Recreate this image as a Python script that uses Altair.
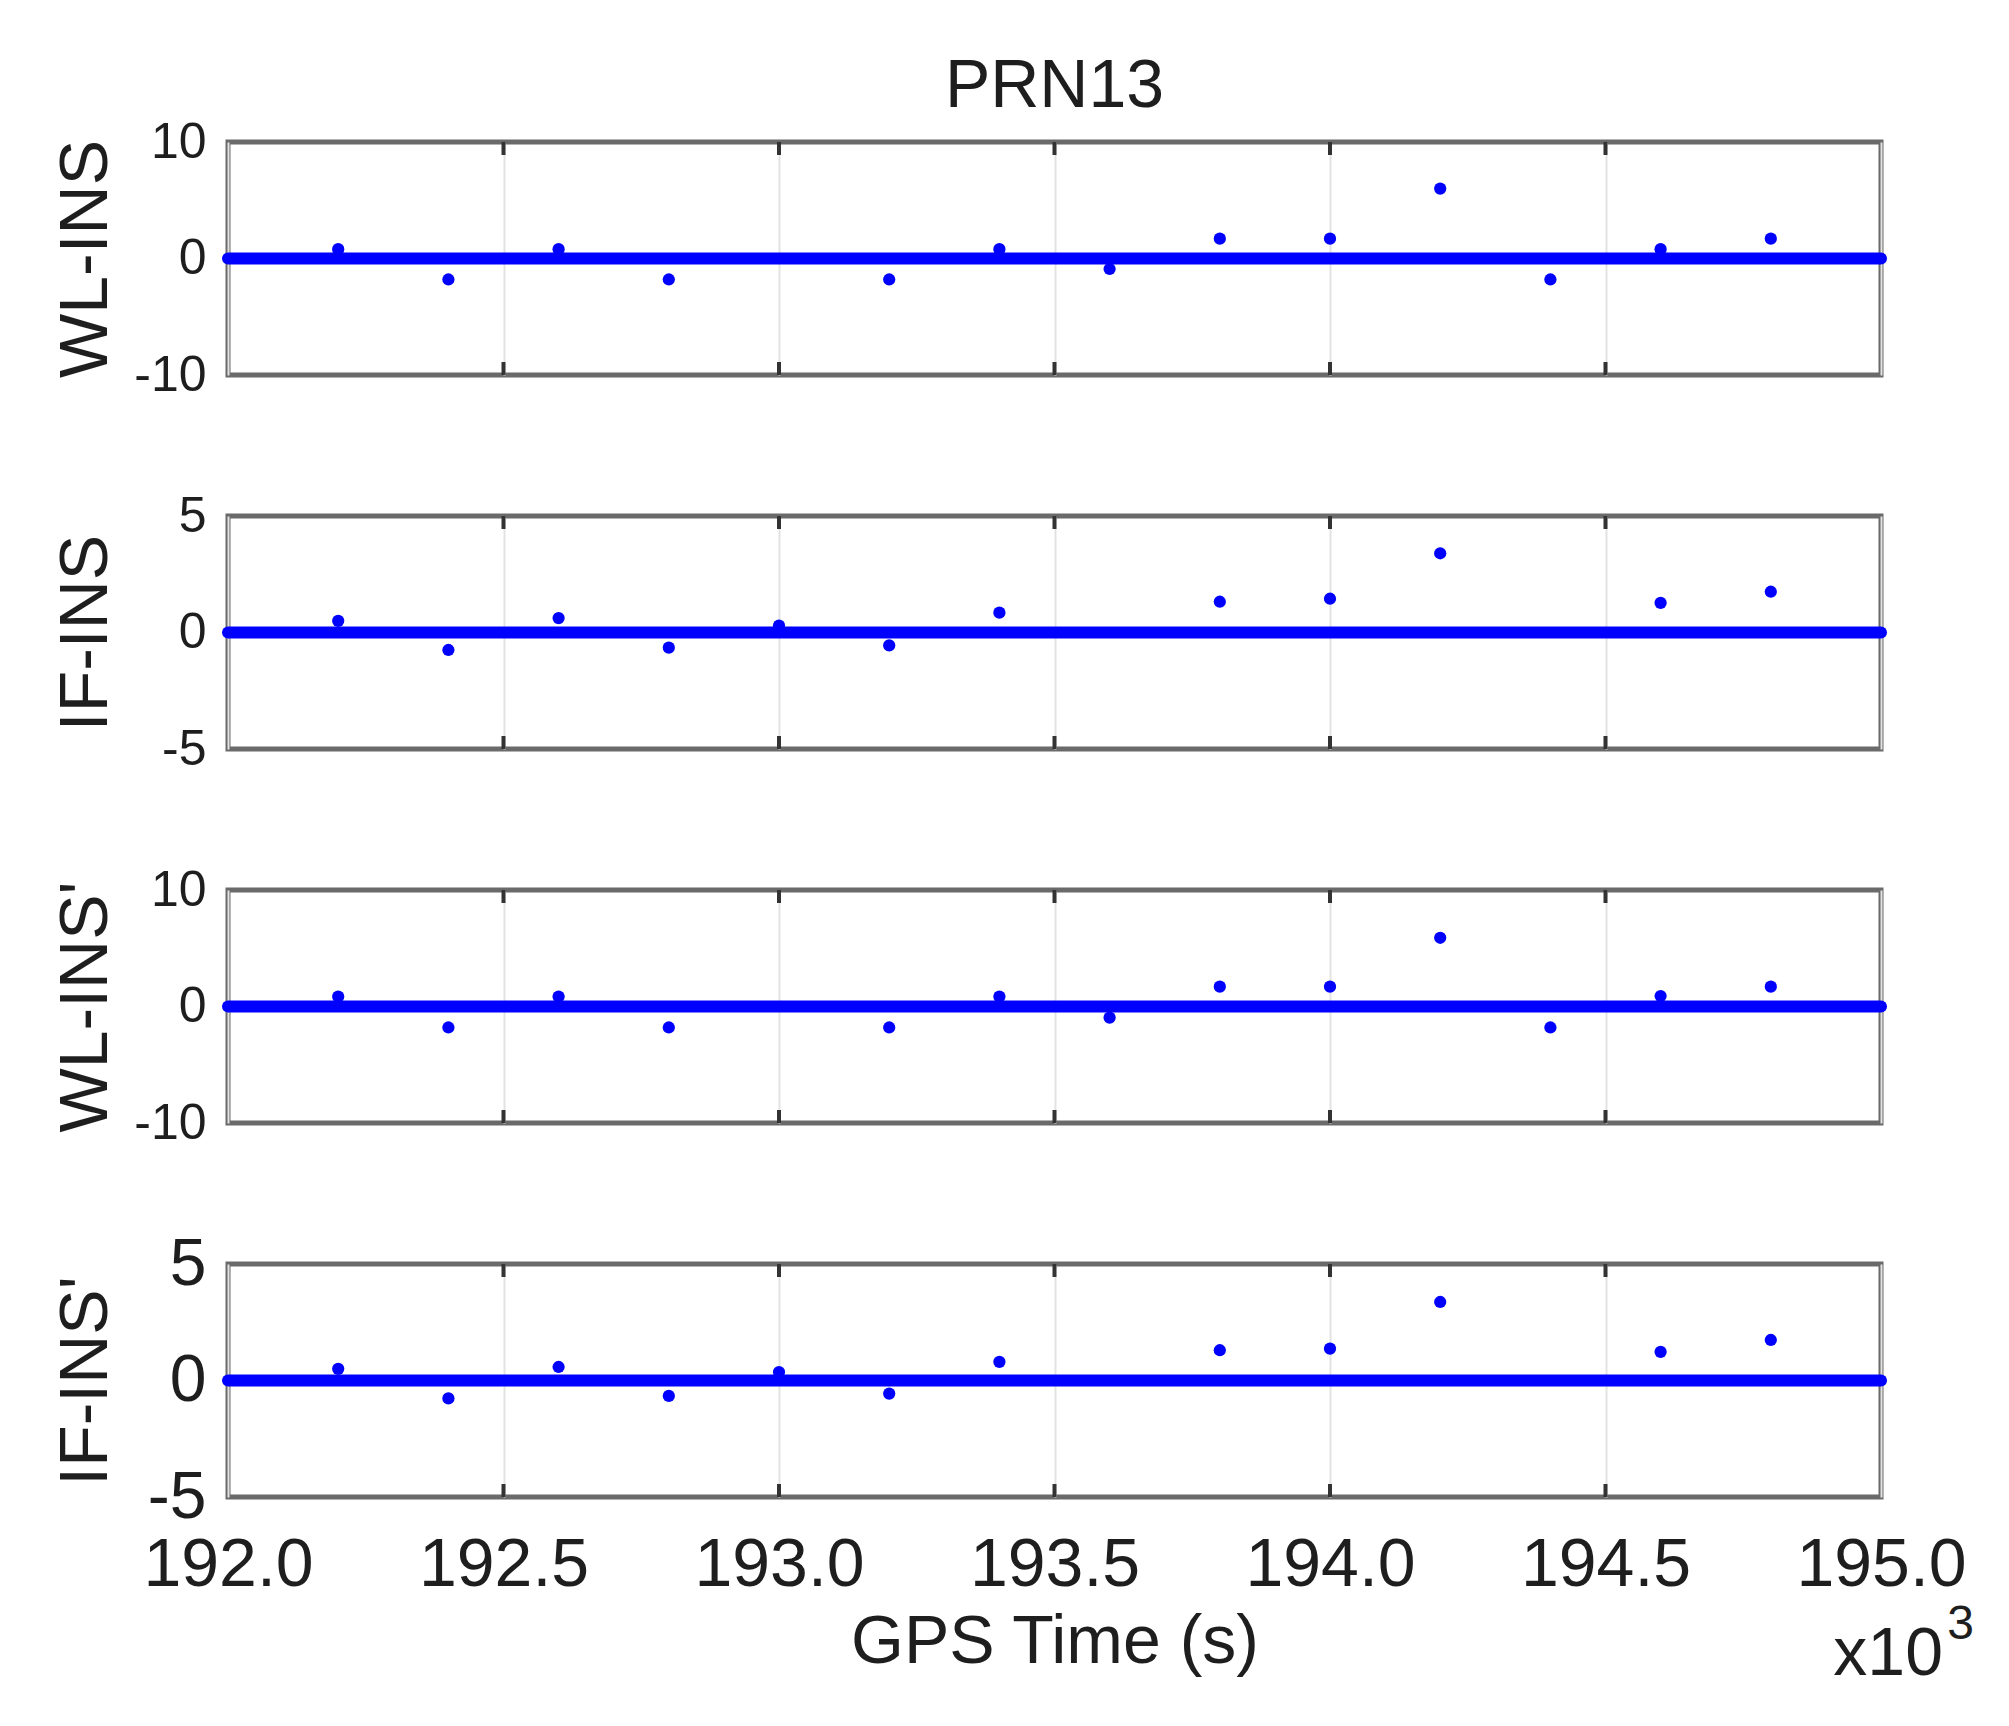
import altair as alt
import pandas as pd

FONT = "Liberation Sans"
BLUE = "#0000ff"
TEXT = "#1e1e1e"

# ---- data -------------------------------------------------------------
x_domain = [192000, 195000]
x_ticks = [192000, 192500, 193000, 193500, 194000, 194500, 195000]
inner_ticks = [192500, 193000, 193500, 194000, 194500]

baseline_t = [192000, 195000]
baseline_v = [0, 0]

wl_times = [192200, 192400, 192600, 192800, 193200, 193400, 193600,
            193800, 194000, 194200, 194400, 194600, 194800]
if_times = [192200, 192400, 192600, 192800, 193000, 193200, 193400,
            193800, 194000, 194200, 194600, 194800]

wl_ins = [0.8, -1.8, 0.8, -1.8, -1.8, 0.8, -0.9, 1.7, 1.7, 6.0, -1.8, 0.8, 1.7]
if_ins = [0.5, -0.75, 0.62, -0.65, 0.3, -0.55, 0.85, 1.32, 1.45, 3.4, 1.27, 1.75]
wl_ins2 = [0.85, -1.8, 0.85, -1.8, -1.8, 0.85, -0.95, 1.7, 1.7, 5.9, -1.8, 0.9, 1.7]
if_ins2 = [0.5, -0.77, 0.58, -0.66, 0.36, -0.56, 0.8, 1.3, 1.37, 3.37, 1.23, 1.74]

labels = ["WL-INS", "IF-INS", "WL-INS'", "IF-INS'"]
limits = [10, 5, 10, 5]
y_tick_sets = [[-10, 0, 10], [-5, 0, 5], [-10, 0, 10], [-5, 0, 5]]
series_times = [wl_times, if_times, wl_times, if_times]
series_vals = [wl_ins, if_ins, wl_ins2, if_ins2]

title_text = "PRN13"
x_title = "GPS Time (s)"

W, H = 1653, 233


def make_panel(i):
    bottom = i == 3
    lim = limits[i]
    ysize = 66 if bottom else 50

    x_axis_kwargs = dict(
        values=x_ticks, grid=True, gridColor="#e2e2e2", gridWidth=2,
        ticks=False, tickSize=0, domain=False, labelFlush=False,
        labelOverlap=False,
    )
    if bottom:
        x_axis_kwargs.update(
            labels=True, title=x_title,
            labelExpr="format(datum.value / 1000, '.1f')",
            labelFont=FONT, labelFontSize=68, labelColor=TEXT,
            labelBaseline="alphabetic", labelPadding=88,
            titleFont=FONT, titleFontSize=68, titleFontWeight="normal",
            titleColor=TEXT, titleBaseline="alphabetic", titleY=165,
        )
    else:
        x_axis_kwargs.update(labels=False, title="")

    x_enc = alt.X("t:Q", scale=alt.Scale(domain=x_domain, nice=False, zero=False),
                  axis=alt.Axis(**x_axis_kwargs))
    y_enc = alt.Y("v:Q", scale=alt.Scale(domain=[-lim, lim], nice=False),
                  axis=alt.Axis(values=y_tick_sets[i], grid=False, ticks=False,
                                tickSize=0, domain=False, labelFlush=False,
                                labelOverlap=False, labelFont=FONT,
                                labelExpr="datum.value < 0 ? '-' + abs(datum.value) : '' + datum.value",
                                labelFontSize=ysize, labelColor=TEXT,
                                labelPadding=22, title=labels[i],
                                titleFont=FONT, titleFontSize=68,
                                titleFontWeight="normal", titleColor=TEXT,
                                titleBaseline="alphabetic", titleAngle=270,
                                titleAlign="center", titleX=-122, titleY=H / 2))

    base_df = pd.DataFrame({"t": baseline_t, "v": baseline_v})
    pts_df = pd.DataFrame({"t": series_times[i], "v": series_vals[i]})
    tick_df = pd.DataFrame({"t": inner_ticks})

    line = alt.Chart(base_df).mark_line(color=BLUE, strokeWidth=12,
                                        strokeCap="round").encode(x=x_enc, y=y_enc)
    pts = alt.Chart(pts_df).mark_circle(color=BLUE, size=150, opacity=1).encode(
        x=x_enc, y=y_enc)
    top_ticks = alt.Chart(tick_df).mark_rule(color="#333333", strokeWidth=4).encode(
        x=x_enc, y=alt.value(0), y2=alt.value(13))
    bot_ticks = alt.Chart(tick_df).mark_rule(color="#333333", strokeWidth=4).encode(
        x=x_enc, y=alt.value(H - 13), y2=alt.value(H))

    layers = [line, top_ticks, bot_ticks, pts]

    if i == 0:
        one = pd.DataFrame({"s": [title_text]})
        title = alt.Chart(one).mark_text(font=FONT, fontSize=68, color=TEXT,
                                         baseline="alphabetic", align="center").encode(
            x=alt.datum(193500), y=alt.value(-35), text="s:N")
        anchor = alt.Chart(one).mark_rule(strokeOpacity=0, strokeWidth=1).encode(
            x=alt.value(-217), x2=alt.value(-216), y=alt.value(-131), y2=alt.value(-130))
        layers += [title, anchor]
    if bottom:
        mult = pd.DataFrame({"s": ["x10"], "e": ["3"]})
        x10 = alt.Chart(mult).mark_text(font=FONT, fontSize=68, color=TEXT,
                                        baseline="alphabetic", align="right", dx=62).encode(
            x=alt.datum(195000), y=alt.value(411), text="s:N")
        exp = alt.Chart(mult).mark_text(font=FONT, fontSize=48, color=TEXT,
                                        baseline="alphabetic", align="right", dx=93).encode(
            x=alt.datum(195000), y=alt.value(375), text="e:N")
        layers += [x10, exp]

    return alt.layer(*layers).properties(width=W, height=H)


chart = alt.vconcat(*[make_panel(i) for i in range(4)], spacing=141,
                    bounds="flush").configure_view(
    stroke="#6a6a6a", strokeWidth=5
).properties(padding=0, background="white")

chart.save("out.html", embed_options={"renderer": "svg", "actions": False})
